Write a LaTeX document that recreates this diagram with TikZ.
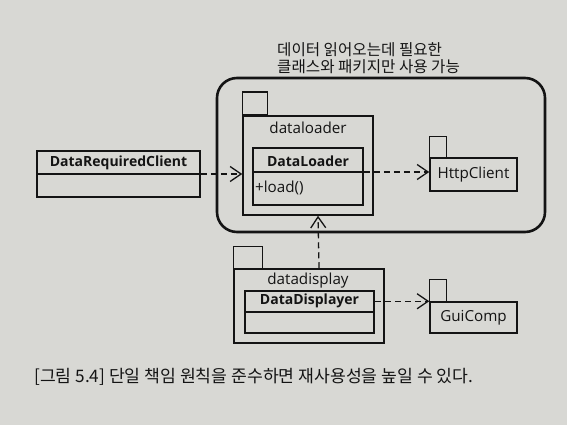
\documentclass[tikz,border=0pt]{standalone}
\usepackage{fontspec}
\setmainfont{Open Sans}
\newfontfamily\kr{Noto Sans CJK KR}
\usetikzlibrary{arrows.meta,positioning}
\definecolor{paper}{RGB}{216,216,212}
\definecolor{ink}{RGB}{20,20,20}

\begin{document}
\begin{tikzpicture}[x=1pt,y=-1pt,
	box/.style={draw=ink,line width=1.5pt,inner sep=0pt},
	lbl/.style={text=ink,inner sep=0pt,font=\fontsize{15.2}{17}\selectfont},
	clsname/.style={lbl,font=\fontsize{14}{16}\selectfont\bfseries},
	dep/.style={draw=ink,line width=1.3pt,dash pattern=on 6pt off 4pt,
		-{Straight Barb[length=11pt,width=15pt]}}]
		\fill[paper] (0,0) rectangle (567,425);
		\useasboundingbox (0,0) rectangle (567,425);
		% boundary of what the loader may use
		\node[lbl,anchor=north west,align=left,font=\kr\fontsize{15.6}{17.5}\selectfont] (note) at (277,42) {데이터 읽어오는데 필요한\\클래스와 패키지만 사용 가능};
		\node[draw=ink,line width=2.6pt,rounded corners=20pt,minimum width=328pt,minimum height=154pt] (bound) at (381,155) {};
		% client
		\node[box,minimum width=163pt,minimum height=46pt] (client) at (118.5,174) {};
			\draw[box] (client.west) -- (client.east);
			\node[clsname] (clientname) at (118.5,163) {DataRequiredClient};
		% dataloader package
		\node[box,minimum width=130pt,minimum height=99pt] (loaderpkg) at (308,165.5) {};
			\draw[box] (loaderpkg.north west) rectangle ++(25,-23);
			\node[lbl] (loaderpkgname) at (308,128) {dataloader};
		\node[box,minimum width=110pt,minimum height=57pt] (loadercls) at (308,176.5) {};
			\draw[box] (loadercls.west |- 0,172) -- (loadercls.east |- 0,172);
			\node[clsname] (loaderclsname) at (308,161) {DataLoader};
			\node[lbl,anchor=west] (loadop) at (255,188) {+load()};
		% HttpClient package
		\node[box,minimum width=87pt,minimum height=33pt] (http) at (473.5,174.5) {};
			\draw[box] (http.north west) rectangle ++(17,-21);
			\node[lbl] (httpname) at (http) {HttpClient};
		% datadisplay package
		\node[box,minimum width=150pt,minimum height=74pt] (displaypkg) at (309,306) {};
			\draw[box] (displaypkg.north west) rectangle ++(29,-22);
			\node[lbl] (displaypkgname) at (308,281) {datadisplay};
		\node[box,minimum width=129pt,minimum height=42pt] (displaycls) at (309.5,312) {};
			\draw[box] (displaycls.west) -- (displaycls.east);
			\node[clsname] (displayclsname) at (309.5,301) {DataDisplayer};
		% GuiComp package
		\node[box,minimum width=87pt,minimum height=31pt] (gui) at (473.5,317.5) {};
			\draw[box] (gui.north west) rectangle ++(17,-22);
			\node[lbl] (guiname) at (gui) {GuiComp};
		% dependencies
		\draw[dep] (client.east) -- (loaderpkg.west |- client.east);
		\draw[dep] (loadercls.east |- 0,172) -- (http.west |- 0,172);
		\draw[dep] ([xshift=10pt]displaypkg.north) -- ([xshift=10pt]loaderpkg.south);
		\draw[dep] (displaycls.east |- gui.north west) -- (gui.north west);
		% caption
		\node[lbl,anchor=west,font=\kr\fontsize{17.2}{19}\selectfont] (caption) at (34,377) {[그림 5.4] 단일 책임 원칙을 준수하면 재사용성을 높일 수 있다.};
	\end{tikzpicture}
\end{document}
